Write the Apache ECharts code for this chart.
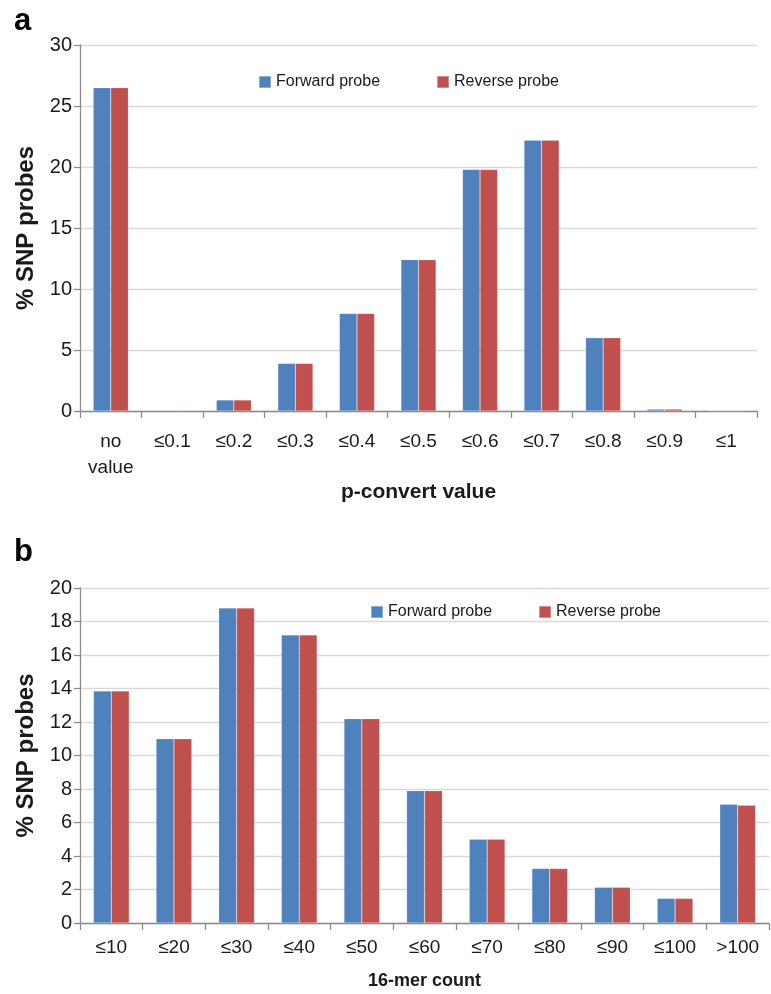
<!DOCTYPE html>
<html><head><meta charset="utf-8">
<script src="https://cdn.jsdelivr.net/npm/echarts@6/dist/echarts.min.js"></script>
<style>html,body{margin:0;padding:0;background:#fff}#c{width:771px;height:994px}</style>
</head><body><div id="c"></div>
<script>
var catsA = ['no\nvalue','≤0.1','≤0.2','≤0.3','≤0.4','≤0.5','≤0.6','≤0.7','≤0.8','≤0.9','≤1'];
var fwdA = [26.5, 0.05, 0.9, 3.9, 8.0, 12.4, 19.8, 22.2, 6.0, 0.15, 0.02];
var revA = [26.5, 0.05, 0.9, 3.9, 8.0, 12.4, 19.8, 22.2, 6.0, 0.15, 0.02];
var catsB = ['≤10','≤20','≤30','≤40','≤50','≤60','≤70','≤80','≤90','≤100','>100'];
var fwdB = [13.85, 11.0, 18.8, 17.2, 12.2, 7.9, 5.0, 3.25, 2.13, 1.47, 7.09];
var revB = [13.85, 11.0, 18.8, 17.2, 12.2, 7.9, 5.0, 3.25, 2.13, 1.47, 7.03];
var seriesNames = ['Forward probe', 'Reverse probe'];
var colors = ['#4F81BD', '#C0504D'];

var FONT = 'Liberation Sans, Arial, Helvetica, sans-serif';
var chart = echarts.init(document.getElementById('c'));

function xAxis(idx, cats, margin, name, gap, nameSize) {
  return {
    type: 'category', gridIndex: idx, data: cats,
    axisLine: {lineStyle: {color: '#8c8c8c', width: 1.3}},
    axisTick: {show: true, alignWithLabel: false, length: 7, lineStyle: {color: '#8c8c8c', width: 1.3}},
    axisLabel: {color: '#1a1a1a', fontSize: 19, fontFamily: FONT, margin: margin, lineHeight: 26, interval: 0},
    name: name, nameLocation: 'middle', nameGap: gap,
    nameTextStyle: {color: '#1a1a1a', fontSize: nameSize, fontWeight: 'bold', fontFamily: FONT}
  };
}
function yAxis(idx, max, interval) {
  return {
    type: 'value', gridIndex: idx, min: 0, max: max, interval: interval,
    axisLine: {show: true, lineStyle: {color: '#8c8c8c', width: 1.3}},
    axisTick: {show: true, length: 6, lineStyle: {color: '#8c8c8c', width: 1.3}},
    axisLabel: {color: '#1a1a1a', fontSize: 20, fontFamily: FONT, margin: 8},
    splitLine: {lineStyle: {color: '#d9d9d9', width: 1.3}},
    name: '% SNP probes', nameLocation: 'middle', nameGap: 42,
    nameTextStyle: {color: '#1a1a1a', fontSize: 24, fontWeight: 'bold', fontFamily: FONT}
  };
}
function bar(name, data, xi, color) {
  return {
    type: 'bar', name: name, data: data, xAxisIndex: xi, yAxisIndex: xi,
    barGap: '0%', barCategoryGap: '43%',
    itemStyle: {color: color, borderColor: 'rgba(255,255,255,0.35)', borderWidth: 0.5},
    emphasis: {disabled: true}
  };
}
function legend(left, top, gap) {
  return {left: left, top: top, padding: 0, itemWidth: 12, itemHeight: 12, itemGap: gap,
    icon: 'rect', data: seriesNames,
    textStyle: {fontSize: 16, color: '#1a1a1a', fontFamily: FONT, padding: [0, 0, 0, 0]}};
}

chart.setOption({
  animation: false,
  grid: [
    {left: 80, right: 14, top: 45, height: 366},
    {left: 80, right: 2, top: 588, height: 335}
  ],
  legend: [legend(258, 74, 56), legend(370, 604, 46)],
  color: colors,
  xAxis: [xAxis(0, catsA, 18, 'p-convert value', 70, 21), xAxis(1, catsB, 12, '16-mer count', 49, 18)],
  yAxis: [yAxis(0, 30, 5), yAxis(1, 20, 2)],
  graphic: [
    {type: 'text', left: 14, top: 6, style: {text: 'a', fontSize: 31, fontWeight: 'bold', fill: '#000', fontFamily: FONT}},
    {type: 'text', left: 14, top: 537, style: {text: 'b', fontSize: 31, fontWeight: 'bold', fill: '#000', fontFamily: FONT}}
  ],
  series: [
    bar(seriesNames[0], fwdA, 0, colors[0]),
    bar(seriesNames[1], revA, 0, colors[1]),
    bar(seriesNames[0], fwdB, 1, colors[0]),
    bar(seriesNames[1], revB, 1, colors[1])
  ]
});
</script></body></html>
